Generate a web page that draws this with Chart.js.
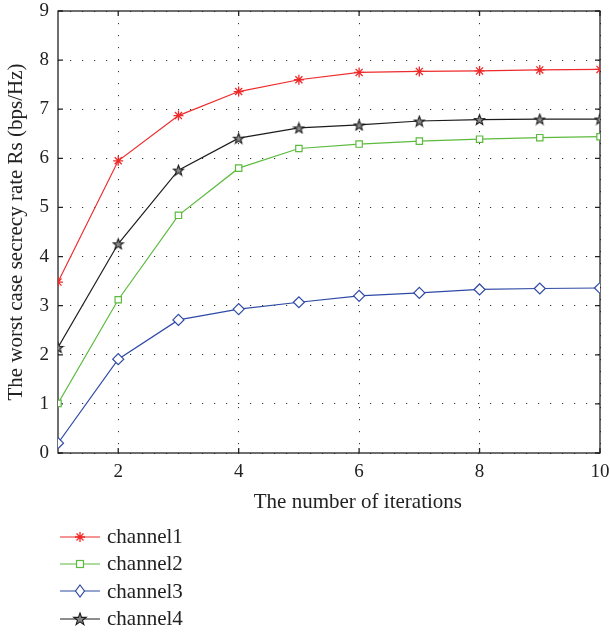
<!DOCTYPE html>
<html>
<head>
<meta charset="utf-8">
<script src="https://cdn.jsdelivr.net/npm/chart.js@4.4.1/dist/chart.umd.min.js"></script>
<style>
    body { margin: 0; background: #fff; }
    #wrap { position: relative; width: 610px; height: 633px; }
    #chartBox { position: absolute; left: 0; top: 0; }
    #legend { position: absolute; left: 60px; top: 523px; font-family: "Liberation Serif", serif; font-size: 21px; color: #222; }
    .item { height: 27.3px; display: flex; align-items: center; }
    .item svg { margin-right: 7px; }
</style>
</head>
<body>
<div id="wrap">
    <canvas id="chartBox" width="610" height="525"></canvas>
    <div id="legend"></div>
</div>
<script>
    // values
    const iterations = [1, 2, 3, 4, 5, 6, 7, 8, 9, 10];
    const channel1 = [3.48, 5.95, 6.87, 7.36, 7.60, 7.75, 7.77, 7.78, 7.80, 7.81];
    const channel2 = [1.01, 3.12, 4.84, 5.80, 6.20, 6.29, 6.35, 6.39, 6.42, 6.44];
    const channel3 = [0.20, 1.91, 2.71, 2.93, 3.07, 3.20, 3.26, 3.33, 3.35, 3.36];
    const channel4 = [2.15, 4.26, 5.76, 6.41, 6.62, 6.68, 6.76, 6.79, 6.80, 6.80];
    const seriesNames = ['channel1', 'channel2', 'channel3', 'channel4'];
    const xTicks = [2, 4, 6, 8, 10];
    const yTicks = [0, 1, 2, 3, 4, 5, 6, 7, 8, 9];

    const colors = ['#ee2a2a', '#5cbb3e', '#2f4aa6', '#1c1c1c'];
    const serif = '"Liberation Serif", serif';

    // MATLAB-like pentagram marker
    function makeStar(size, color) {
        const c = document.createElement('canvas');
        c.width = c.height = size;
        const g = c.getContext('2d');
        const r = size / 2 - 1, ri = r * 0.42, cx = size / 2, cy = size / 2 + 0.6;
        g.beginPath();
        for (let i = 0; i < 10; i++) {
            const a = -Math.PI / 2 + i * Math.PI / 5;
            const rr = i % 2 ? ri : r;
            g.lineTo(cx + rr * Math.cos(a), cy + rr * Math.sin(a));
        }
        g.closePath();
        g.fillStyle = '#888';
        g.fill();
        g.strokeStyle = color;
        g.lineWidth = 1.1;
        g.stroke();
        return c;
    }
    const starImg = makeStar(13, colors[3]);

    const pts = (arr) => iterations.map((x, i) => ({ x: x, y: arr[i] }));

    // box and inward ticks, drawn under the lines
    const boxPlugin = {
        id: 'box',
        beforeDatasetsDraw(chart) {
            const { ctx, chartArea: a, scales } = chart;
            const x = scales.x, y = scales.y;
            ctx.save();
            ctx.strokeStyle = '#222';
            ctx.lineWidth = 1.3;
            ctx.strokeRect(a.left, a.top, a.right - a.left, a.bottom - a.top);
            ctx.beginPath();
            xTicks.forEach(v => {
                const px = x.getPixelForValue(v);
                ctx.moveTo(px, a.bottom); ctx.lineTo(px, a.bottom - 5);
                ctx.moveTo(px, a.top); ctx.lineTo(px, a.top + 5);
            });
            yTicks.forEach(v => {
                const py = y.getPixelForValue(v);
                ctx.moveTo(a.left, py); ctx.lineTo(a.left + 5, py);
                ctx.moveTo(a.right, py); ctx.lineTo(a.right - 5, py);
            });
            ctx.stroke();
            ctx.restore();
        }
    };

    const chart = new Chart(document.getElementById('chartBox'), {
        type: 'line',
        data: {
            datasets: [
                { label: seriesNames[0], data: pts(channel1), borderColor: colors[0], pointStyle: 'star', pointRadius: 5, pointBorderColor: colors[0], pointBorderWidth: 1.3 },
                { label: seriesNames[1], data: pts(channel2), borderColor: colors[1], pointStyle: 'rect', pointRadius: 4.5, pointBorderColor: colors[1], pointBackgroundColor: '#fff', pointBorderWidth: 1.2 },
                { label: seriesNames[2], data: pts(channel3), borderColor: colors[2], pointStyle: 'rectRot', pointRadius: 5.5, pointBorderColor: colors[2], pointBackgroundColor: '#fff', pointBorderWidth: 1.2 },
                { label: seriesNames[3], data: pts(channel4), borderColor: colors[3], pointStyle: starImg }
            ].map(d => Object.assign({ borderWidth: 1.2, tension: 0, fill: false }, d))
        },
        options: {
            responsive: false,
            animation: false,
            devicePixelRatio: 1,
            layout: { padding: { top: 11, right: 10, left: 0, bottom: 0 } },
            plugins: { legend: { display: false }, tooltip: { enabled: false } },
            scales: {
                x: {
                    type: 'linear', min: 1, max: 10,
                    afterBuildTicks: axis => { axis.ticks = xTicks.map(v => ({ value: v })); },
                    afterFit: axis => { axis.height = 72; axis.paddingLeft = 0; axis.paddingRight = 0; },
                    grid: { color: '#333', lineWidth: 1, drawTicks: false },
                    border: { display: false, dash: [1.2, 10.8] },
                    ticks: { padding: 8, color: '#222', font: { family: serif, size: 19 }, maxRotation: 0 },
                    title: { display: true, text: '\u00a0'.repeat(11) + 'The number of iterations', color: '#222', font: { family: serif, size: 21 }, padding: { top: 0, bottom: 10 } }
                },
                y: {
                    min: 0, max: 9,
                    afterBuildTicks: axis => { axis.ticks = yTicks.map(v => ({ value: v })); },
                    afterFit: axis => { axis.width = 58; axis.paddingTop = 0; axis.paddingBottom = 0; },
                    grid: { color: '#333', lineWidth: 1, drawTicks: false },
                    border: { display: false, dash: [1.2, 10.8] },
                    ticks: { padding: 9, color: '#222', font: { family: serif, size: 19 } },
                    title: { display: true, text: 'The worst case secrecy rate Rs (bps/Hz)', color: '#222', font: { family: serif, size: 21 }, padding: { top: 4, bottom: 0 } }
                }
            }
        },
        plugins: [boxPlugin]
    });

    // legend below the chart, one entry per row
    const markers = [
        '<path d="M20 3v10M15 8h10M16.5 4.5l7 7M23.5 4.5l-7 7" stroke="' + colors[0] + '" stroke-width="1.3"/>',
        '<rect x="16.5" y="4.5" width="7" height="7" fill="#fff" stroke="' + colors[1] + '" stroke-width="1.2"/>',
        '<path d="M20 2l4.5 6l-4.5 6l-4.5-6z" fill="#fff" stroke="' + colors[2] + '" stroke-width="1.2"/>',
        '<path d="M20 2l1.6 4.4h4.6l-3.7 2.8l1.4 4.5l-3.9-2.8l-3.9 2.8l1.4-4.5l-3.7-2.8h4.6z" fill="#888" stroke="' + colors[3] + '" stroke-width="1.1"/>'
    ];
    const legend = document.getElementById('legend');
    seriesNames.forEach((name, i) => {
        const item = document.createElement('div');
        item.className = 'item';
        item.innerHTML = '<svg width="40" height="16" viewBox="0 0 40 16"><line x1="0" y1="8" x2="40" y2="8" stroke="' + colors[i] + '" stroke-width="1.2"/>' + markers[i] + '</svg><span>' + name + '</span>';
        legend.appendChild(item);
    });
</script>
</body>
</html>
